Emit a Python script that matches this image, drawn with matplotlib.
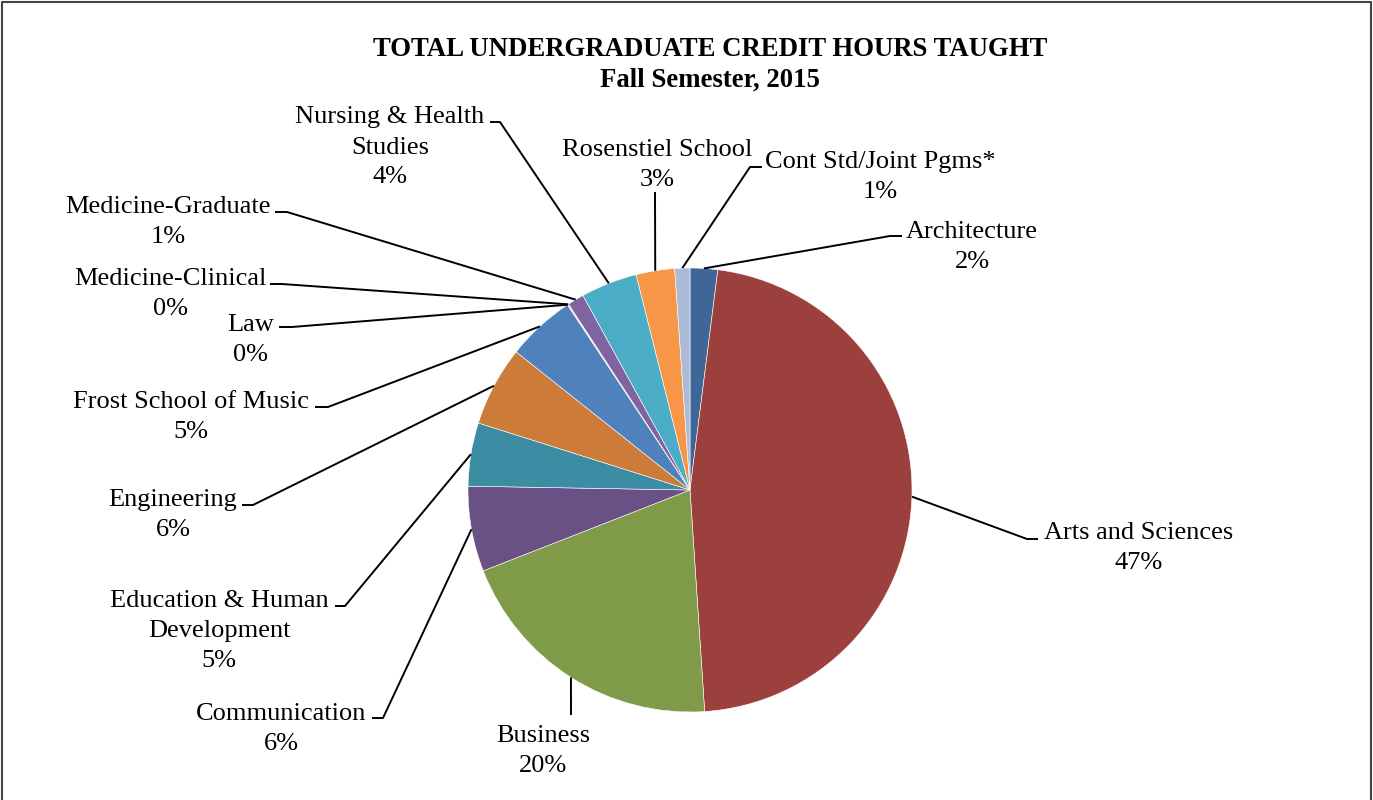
import matplotlib
matplotlib.use("Agg")
import matplotlib.pyplot as plt
import numpy as np

# escuelas / colleges, in clockwise order from the top
colegios = ["Architecture", "Arts and Sciences", "Business", "Communication",
            "Education & Human\nDevelopment", "Engineering", "Frost School of Music",
            "Law", "Medicine-Clinical", "Medicine-Graduate",
            "Nursing & Health\nStudies", "Rosenstiel School", "Cont Std/Joint Pgms*"]
# share of credit hours (percent)
horas = [2.0, 46.9, 20.1, 6.2, 4.6, 5.8, 5.0, 0.05, 0.05, 1.2, 4.1, 2.8, 1.1]
colores = ["#3E6797", "#9C403E", "#7F9A48", "#6A5185", "#3C8CA3", "#CC7B38", "#4F81BD",
           "#C0504D", "#9BBB59", "#8064A2", "#4BACC6", "#F79646", "#AABAD7"]

# label layout in pixel coords (y measured from top): text centre x, first line y
pos_texto = [(972, 229), (1139, 530), (543, 733), (281, 711), (219, 598), (173, 497),
             (191, 399), (251, 322), (170, 276), (168, 204), (390, 114), (657, 147), (880, 159)]
# leader elbow and end of the short horizontal tick (None = straight line only)
codo = [((890, 236), (902, 236)), ((1027, 539), (1038, 539)), ((571, 715), None),
        ((383, 718), (372, 718)), ((345, 606), (335, 606)), ((253, 505), (242, 505)),
        ((328, 407), (315, 407)), ((292, 327), (279, 327)), ((282, 284), (270, 284)),
        ((287, 212), (275, 212)), ((500, 122), (490, 122)), ((655, 192), None),
        ((750, 167), (762, 167))]
paso = 30  # line pitch of the labels, px

W, H = 1373, 800
def Y(y):
    return H - y

plt.rcParams['font.family'] = ['Liberation Serif', 'DejaVu Serif']

fig = plt.figure(figsize=(W / 100, H / 100), dpi=100)
ax = fig.add_axes([0, 0, 1, 1])

centro = (690, Y(490))
radio = 222
cunas, _ = ax.pie(horas, colors=colores, startangle=90, counterclock=False,
                  center=centro, radius=radio,
                  wedgeprops=dict(edgecolor="white", linewidth=0.4))

total = sum(horas)
for i, w in enumerate(cunas):
    ang = np.deg2rad((w.theta1 + w.theta2) / 2)
    x0 = centro[0] + radio * np.cos(ang)
    y0 = centro[1] + radio * np.sin(ang)
    (ex, ey), fin = codo[i]
    xs = [x0, ex]
    ys = [y0, Y(ey)]
    if fin is not None:
        xs.append(fin[0])
        ys.append(Y(fin[1]))
    ax.plot(xs, ys, color="black", lw=1.4, solid_capstyle="butt")
    pct = round(horas[i] / total * 100)
    tx, ty = pos_texto[i]
    nlin = colegios[i].count("\n") + 1
    ax.text(tx, Y(ty - 8), colegios[i], ha="center", va="top",
            fontsize=19, linespacing=1.5)
    ax.text(tx, Y(ty - 8 + nlin * paso), str(pct) + "%", ha="center", va="top",
            fontsize=19)

ax.text(710, Y(49), "TOTAL UNDERGRADUATE CREDIT HOURS TAUGHT", ha="center", va="center",
        fontsize=19.3, fontweight="bold")
ax.text(710, Y(80), "Fall Semester, 2015", ha="center", va="center",
        fontsize=19.3, fontweight="bold")

# marco
ax.plot([2, 2, W - 2, W - 2], [-5, Y(2), Y(2), -5], color="#444444", lw=1.5)

ax.set_xlim(0, W)
ax.set_ylim(0, H)
ax.set_aspect("auto")
ax.axis("off")

fig.savefig("out.png", dpi=100)
